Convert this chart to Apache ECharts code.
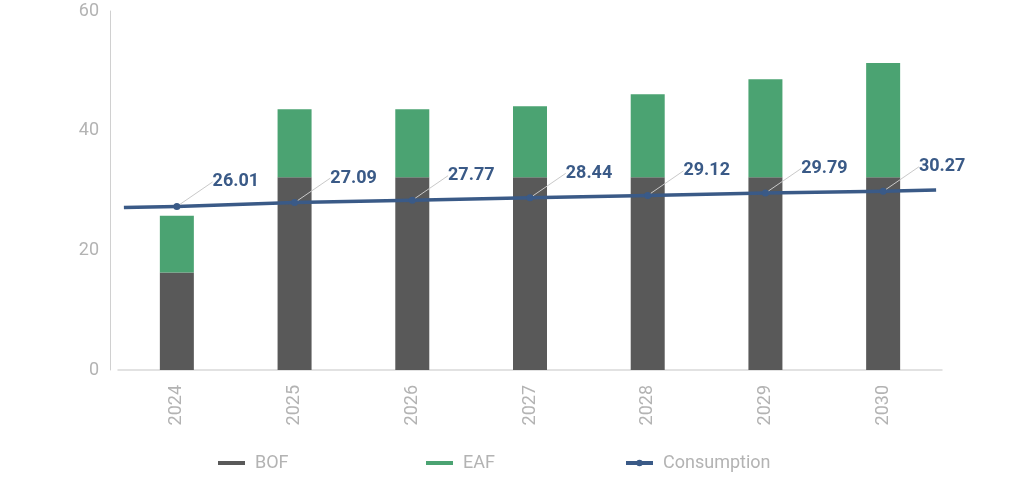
<!DOCTYPE html>
<html>
<head>
<meta charset="utf-8">
<script src="https://cdn.jsdelivr.net/npm/echarts@6/dist/echarts.min.js"></script>
<style>
html,body{margin:0;padding:0;background:#fff;}
#chart{width:1024px;height:487px;}
</style>
</head>
<body>
<div id="chart"></div>
<script>
// ---- data ----
const categories = ['2024', '2025', '2026', '2027', '2028', '2029', '2030'];
const bof = [16.3, 32.2, 32.2, 32.2, 32.2, 32.2, 32.2];
const eaf = [9.5, 11.4, 11.4, 11.9, 13.9, 16.4, 19.1];
const consumption = [26.01, 27.09, 27.77, 28.44, 29.12, 29.79, 30.27];
// trend-line ends drawn beyond the first and last category (position in categories, value)
const trendLeft = [-0.45, 25.72];
const trendRight = [6.45, 30.65];
const yTicks = [0, 20, 40, 60];

const font = 'Roboto, "DejaVu Sans", sans-serif';
const grey = '#b3b3b3';
const lineColor = '#3a5a87';

const chart = echarts.init(document.getElementById('chart'));
const legendBase = {
  orient: 'horizontal', top: 449, itemGap: 0,
  textStyle: { color: grey, fontSize: 18, fontFamily: font, padding: [0, 0, 0, 5] },
  selectedMode: false
};
chart.setOption({
  animation: false,
  backgroundColor: '#fff',
  grid: { left: 118, right: 82, top: 11, bottom: 117, containLabel: false },
  legend: [
    Object.assign({}, legendBase, { left: 213, data: [{ name: 'BOF', icon: 'rect' }], itemWidth: 27, itemHeight: 4 }),
    Object.assign({}, legendBase, { left: 421, data: [{ name: 'EAF', icon: 'rect' }], itemWidth: 27, itemHeight: 4 }),
    Object.assign({}, legendBase, {
      left: 619, itemWidth: 27, itemHeight: 8,
      data: [{ name: 'Consumption', lineStyle: { width: 4, color: lineColor }, itemStyle: { color: lineColor } }]
    })
  ],
  xAxis: [
    {
      type: 'category', data: categories, boundaryGap: true,
      axisLine: { show: true, onZero: false, lineStyle: { color: '#d9d9d9', width: 1.5 } },
      axisTick: { show: false },
      axisLabel: { rotate: 90, margin: 15, color: grey, fontSize: 18, fontFamily: font }
    },
    { type: 'value', min: -0.5, max: 6.5, show: false }
  ],
  yAxis: [
    {
      type: 'value', min: yTicks[0], max: yTicks[yTicks.length - 1], interval: 20, offset: 8,
      axisLine: { show: true, onZero: false, lineStyle: { color: '#d0d0d0', width: 1 } },
      axisTick: { show: false },
      splitLine: { show: false },
      axisLabel: { color: grey, fontSize: 18, fontFamily: font, margin: 11 }
    },
    { type: 'value', min: -20, max: 81, show: false, splitLine: { show: false }, axisLine: { onZero: false } }
  ],
  series: [
    {
      name: 'BOF', type: 'bar', stack: 'cap', data: bof, barWidth: 34,
      itemStyle: { color: '#595959' }
    },
    {
      name: 'EAF', type: 'bar', stack: 'cap', data: eaf, barWidth: 34,
      itemStyle: { color: '#4ba372' }
    },
    {
      name: 'trend', type: 'line', xAxisIndex: 1, yAxisIndex: 1, z: 3,
      data: [trendLeft, [0, consumption[0]], ['-', '-'], [categories.length - 1, consumption[consumption.length - 1]], trendRight],
      symbol: 'none', silent: true, connectNulls: false,
      lineStyle: { color: lineColor, width: 3.5 }
    },
    {
      name: 'Consumption', type: 'line', yAxisIndex: 1, data: consumption, z: 4,
      symbol: 'circle', symbolSize: 7,
      itemStyle: { color: lineColor },
      lineStyle: { color: lineColor, width: 3.5 },
      label: {
        show: true, position: 'top', distance: 5,
        color: lineColor, fontSize: 18, fontWeight: 'bold', fontFamily: font,
        formatter: p => p.value.toFixed(2)
      },
      labelLayout: { dx: 59, dy: -7 },
      labelLine: { show: true, lineStyle: { color: '#c9c9c9', width: 1 } }
    }
  ]
});
</script>
</body>
</html>
